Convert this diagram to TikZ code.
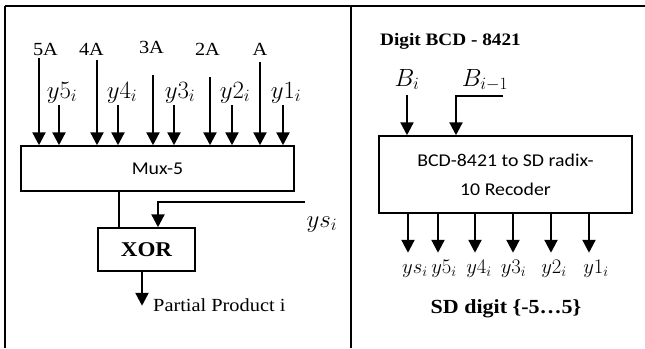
\documentclass[tikz,border=0pt]{standalone}
\usepackage{fontspec}
\setmainfont[FakeStretch=1.1]{Liberation Serif}
\newfontfamily\calibrifont[FakeStretch=1.1]{Carlito}
\usepackage{tikz}
\usetikzlibrary{
  arrows.meta,
  positioning
}
\tikzset{
  blockbox/.style={
    rectangle, draw, line width=1.5pt, inner sep=0pt,
    font=\calibrifont\fontsize{18}{29}\selectfont, align=center
  },
  sig/.style={-{Triangle[length=13pt, width=13pt]}, line width=2.3pt},
  wire/.style={line width=1.7pt},
  frameline/.style={line width=1.5pt},
  inlbl/.style={font=\fontsize{18.5}{20}\selectfont, inner sep=0pt, anchor=base},
  mathlbl/.style={font=\fontsize{24}{26}\selectfont, inner sep=0pt, anchor=base},
  outlbl/.style={font=\fontsize{21}{24}\selectfont, inner sep=0pt, anchor=base},
}

\begin{document}
\begin{tikzpicture}[x=1pt, y=-1pt]
\useasboundingbox (0,0) rectangle (645,348);

% Frame
\draw[frameline] (5,6) -- (645,6);
\draw[frameline] (5,6) -- (5,348);
\draw[frameline] (351,6) -- (351,348);

% Mux-5 and XOR
\node[blockbox, minimum width=273pt, minimum height=45pt] (mux) at (157.5,168.5) {Mux-5};
\node[blockbox, minimum width=97pt, minimum height=43pt, font=\bfseries\fontsize{21}{24}\selectfont] (xor) at (146.5,249.5) {XOR};

% Multiples of A
\node[inlbl] (l5a) at (45.5,55.5) {5A};
\node[inlbl] (l4a) at (91.5,55.5) {4A};
\node[inlbl] (l3a) at (151.5,53) {3A};
\node[inlbl] (l2a) at (207.5,55.5) {2A};
\node[inlbl] (l1a) at (260,55.5) {A};
\coordinate (s5a) at (39,58);
\coordinate (s4a) at (97,60);
\coordinate (s3a) at (153,75);
\coordinate (s2a) at (210,77);
\coordinate (s1a) at (260,62);
\draw[sig] (s5a) -- (s5a |- mux.north);
\draw[sig] (s4a) -- (s4a |- mux.north);
\draw[sig] (s3a) -- (s3a |- mux.north);
\draw[sig] (s2a) -- (s2a |- mux.north);
\draw[sig] (s1a) -- (s1a |- mux.north);

% Select lines
\node[mathlbl] (ly5) at (62,98) {$y5_i$};
\node[mathlbl] (ly4) at (122,98) {$y4_i$};
\node[mathlbl] (ly3) at (180,98) {$y3_i$};
\node[mathlbl] (ly2) at (235,98) {$y2_i$};
\node[mathlbl] (ly1) at (286,98) {$y1_i$};
\coordinate (sy5) at (59,105);
\coordinate (sy4) at (118,105);
\coordinate (sy3) at (174,105);
\coordinate (sy2) at (232,105);
\coordinate (sy1) at (283,105);
\draw[sig] (sy5) -- (sy5 |- mux.north);
\draw[sig] (sy4) -- (sy4 |- mux.north);
\draw[sig] (sy3) -- (sy3 |- mux.north);
\draw[sig] (sy2) -- (sy2 |- mux.north);
\draw[sig] (sy1) -- (sy1 |- mux.north);

% Sign and output
\draw[wire] ([xshift=-27.5pt]xor.north) -- ([xshift=-27.5pt]xor.north |- mux.south);
\coordinate (ysin) at (305,202);
\node[mathlbl] (lys) at (322,227) {$ys_i$};
\draw[sig] (ysin) -| ([xshift=11.5pt]xor.north);
\draw[sig] ([xshift=-4.5pt]xor.south) -- ++(0,34);
\node[inlbl, anchor=base west] (lpp) at (153,311) {Partial Product i};

% Recoder
\node[inlbl, font=\bfseries\fontsize{17.5}{20}\selectfont, anchor=base west] (ldig) at (380,45) {Digit BCD - 8421};
\node[blockbox, minimum width=253pt, minimum height=77pt] (rec) at (505.5,174.5) {BCD-8421 to SD radix-\\10 Recoder};
\node[mathlbl] (lbi) at (407,86) {$B_i$};
\node[mathlbl] (lbp) at (485,86) {$B_{i-1}$};
\coordinate (sbi) at (407,95);
\coordinate (sbp) at (503,96);
\draw[sig] (sbi) -- (sbi |- rec.north);
\draw[sig] (sbp) -| ([xshift=-49.5pt]rec.north);

% Recoder outputs
\draw[sig] ([xshift=-97.5pt]rec.south) -- ++(0,39);
\draw[sig] ([xshift=-67.5pt]rec.south) -- ++(0,39);
\draw[sig] ([xshift=-30.5pt]rec.south) -- ++(0,39);
\draw[sig] ([xshift=7.5pt]rec.south) -- ++(0,39);
\draw[sig] ([xshift=45.5pt]rec.south) -- ++(0,39);
\draw[sig] ([xshift=83.5pt]rec.south) -- ++(0,39);
\node[outlbl] (oys) at (415,273) {$ys_i$};
\node[outlbl] (oy5) at (444,273) {$y5_i$};
\node[outlbl] (oy4) at (479,273) {$y4_i$};
\node[outlbl] (oy3) at (513.5,273) {$y3_i$};
\node[outlbl] (oy2) at (554,273) {$y2_i$};
\node[outlbl] (oy1) at (596,273) {$y1_i$};
\node[inlbl, font=\bfseries\fontsize{20}{24}\selectfont] (lsd) at (506,313) {SD digit \{-5\dots5\}};

\end{tikzpicture}
\end{document}
